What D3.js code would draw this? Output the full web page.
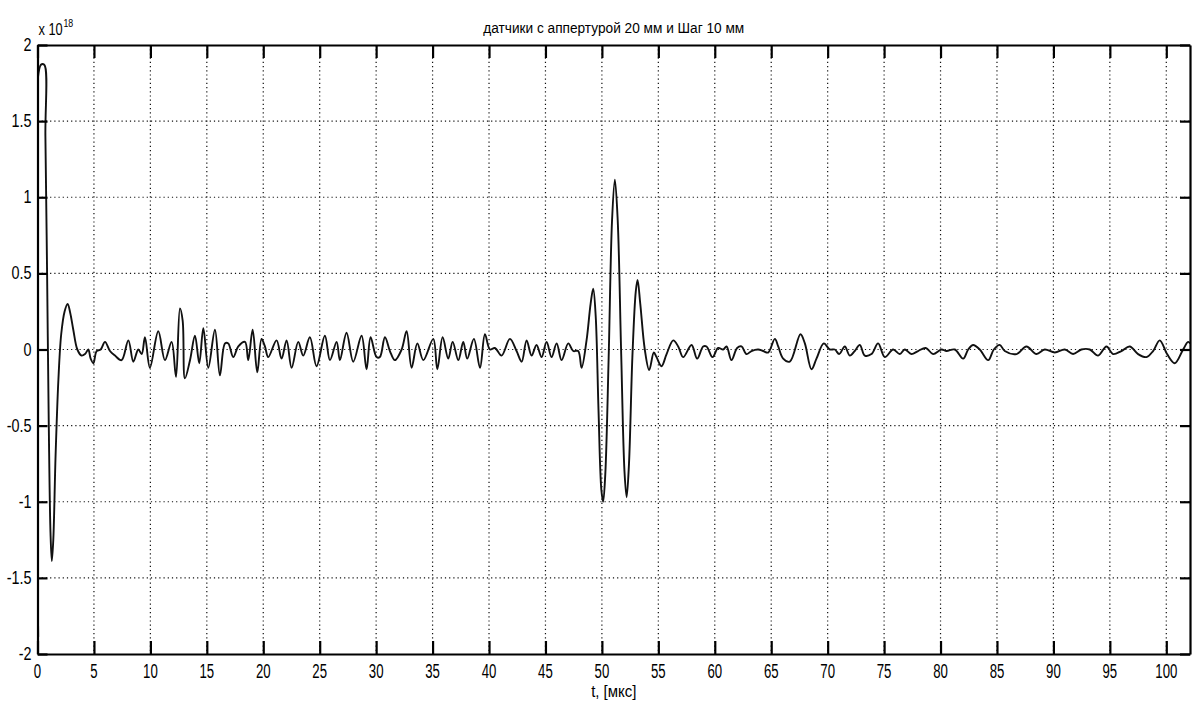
<!DOCTYPE html>
<html>
<head>
<meta charset="utf-8">
<script src="https://cdn.jsdelivr.net/npm/d3@7"></script>
<style>
  body { margin: 0; background: #fff; }
  text { font-family: "Liberation Sans", Arial, sans-serif; fill: #000; }
</style>
</head>
<body>
<div id="chart"></div>
<script>
// signal samples: time in мкс, amplitude in units of 1e18
var tSamples = [
  0, 0.06, 0.3, 0.6, 0.7, 0.85, 1.0, 1.15, 1.27, 1.4, 1.6, 1.85, 2.1, 2.4, 2.67, 2.9, 3.17, 3.53, 3.91, 4.21,
  4.5, 4.71, 4.95, 5.24, 5.6, 5.98, 6.42, 6.86, 7.45, 8.05, 8.49, 8.93, 9.23, 9.52, 9.96, 10.7, 11.29, 11.88, 12.27, 12.62,
  12.86, 13.06, 13.51, 13.95, 14.33, 14.69, 15.13, 15.72, 16.16, 16.61, 16.9, 17.34, 17.79, 18.38, 18.67, 19.06, 19.47, 19.85, 20.15, 20.44,
  21.18, 21.62, 22.07, 22.51, 23.1, 23.54, 24.13, 24.72, 25.46, 25.91, 26.5, 26.79, 27.38, 27.97, 28.71, 29.15, 29.51, 30.04, 30.33, 30.78,
  31.22, 31.66, 32.26, 32.7, 33.14, 33.65, 34.18, 35.06, 35.42, 35.89, 36.39, 36.78, 37.28, 37.72, 38.07, 38.66, 39.2, 39.64, 40.08, 40.52,
  41.11, 41.85, 42.44, 42.89, 43.33, 43.77, 44.21, 44.66, 45.1, 45.54, 45.99, 46.43, 47.02, 47.46, 47.9, 48.2, 48.64, 49.0, 49.23, 49.45,
  49.7, 49.95, 50.11, 50.3, 50.6, 50.9, 51.15, 51.4, 51.7, 52.0, 52.19, 52.4, 52.7, 53.0, 53.16, 53.4, 53.8, 54.19, 54.6, 54.84,
  55.28, 55.73, 56.32, 56.76, 57.2, 57.94, 58.44, 58.97, 59.27, 59.8, 60.3, 60.74, 61.04, 61.48, 61.98, 62.37, 62.81, 63.25, 63.84, 64.29,
  64.73, 65.32, 65.62, 66.06, 66.65, 67.59, 67.98, 68.57, 69.01, 69.66, 70.19, 70.63, 71.02, 71.52, 71.96, 72.4, 72.85, 73.29, 73.88, 74.47,
  75.06, 75.8, 76.39, 76.83, 77.42, 78.01, 78.69, 79.34, 80.08, 80.53, 81.26, 82.0, 82.45, 82.89, 83.48, 84.22, 84.72, 85.25, 85.69, 86.73,
  87.61, 88.5, 89.23, 90.12, 91.01, 91.74, 92.48, 93.22, 93.96, 94.7, 95.29, 96.02, 96.76, 97.5, 98.24, 98.83, 99.42, 100.07, 100.75, 101.49,
  101.93, 102.1
];
var ampSamples = [
  0.37, -1.89, 1.87, 1.87, 1.4, 0.5, -0.5, -1.2, -1.39, -1.25, -0.7, -0.2, 0.1, 0.25, 0.3, 0.24, 0.13, 0, -0.04, -0.03,
  0, -0.06, -0.09, -0.01, 0, 0.05, -0.01, -0.04, -0.07, 0.06, -0.08, 0, -0.03, 0.08, -0.12, 0.12, -0.07, 0.05, -0.18, 0.27,
  0.19, -0.19, -0.07, 0.09, -0.09, 0.14, -0.12, 0.13, -0.17, 0.04, 0.04, -0.05, 0.02, 0.05, -0.07, 0.13, -0.15, 0.07, 0.02, -0.05,
  0.06, -0.06, 0.06, -0.12, 0.05, -0.04, 0.08, -0.11, 0.09, -0.07, 0.05, -0.07, 0.11, -0.08, 0.09, -0.13, 0.08, -0.05, -0.05, 0.08,
  -0.01, -0.07, 0, 0.12, -0.12, 0.04, -0.07, 0.07, -0.13, 0.08, -0.06, 0.05, -0.07, 0.05, -0.06, 0.07, -0.12, 0.1, 0, 0.01,
  -0.04, 0.07, -0.01, -0.08, 0.06, -0.04, 0.03, -0.05, 0.05, -0.05, 0.04, -0.07, 0.04, -0.01, -0.01, -0.12, 0.06, 0.3, 0.4, 0.22,
  -0.4, -0.92, -1.0, -0.82, -0.05, 0.85, 1.115, 0.85, 0, -0.8, -0.97, -0.75, -0.05, 0.38, 0.457, 0.3, 0, -0.135, -0.02, -0.05,
  -0.11, -0.03, 0.06, 0.02, -0.05, 0.03, -0.06, 0.02, 0.02, -0.05, 0.01, 0, 0.02, -0.07, 0.01, 0.02, -0.03, -0.01, 0, -0.01,
  -0.02, 0.07, 0.02, -0.06, -0.08, 0.1, 0.04, -0.13, -0.06, 0.04, 0, 0, -0.03, 0.02, -0.04, -0.01, 0.03, -0.04, -0.03, 0.04,
  -0.05, 0, -0.03, 0, -0.03, -0.01, 0.01, -0.03, 0, -0.01, 0, -0.06, 0, 0.03, 0, -0.07, 0, 0.03, -0.01, -0.03,
  0.02, -0.03, 0, -0.02, 0, -0.03, 0, 0, -0.04, 0.02, -0.03, -0.01, 0.02, -0.03, -0.05, -0.01, 0.06, -0.03, -0.09, 0,
  0.05, 0.04
];
var xTicks = d3.range(0, 101, 5);
var yTicks = [-2, -1.5, -1, -0.5, 0, 0.5, 1, 1.5, 2];
var xMax = 102.1;

var svgWidth = 1192, svgHeight = 703;
var margin = { top: 45, right: 2, bottom: 49, left: 37.5 };
var width = svgWidth - margin.left - margin.right;
var height = svgHeight - margin.top - margin.bottom;

var svg = d3.select("#chart").append("svg")
  .attr("width", svgWidth)
  .attr("height", svgHeight);

var chartGroup = svg.append("g")
  .attr("transform", `translate(${margin.left}, ${margin.top})`);

var xScale = d3.scaleLinear().domain([0, xMax]).range([0, width]);
var yScale = d3.scaleLinear().domain([-2, 2]).range([height, 0]);

// dotted grid
chartGroup.append("g").selectAll("line")
  .data(xTicks.filter(d => d > 0))
  .enter().append("line")
  .attr("x1", d => xScale(d)).attr("x2", d => xScale(d))
  .attr("y1", 0).attr("y2", height)
  .attr("stroke", "#111").attr("stroke-width", 1.2)
  .attr("stroke-dasharray", "1.2,3");

chartGroup.append("g").selectAll("line")
  .data(yTicks.filter(d => d > -2 && d < 2))
  .enter().append("line")
  .attr("x1", 0).attr("x2", width)
  .attr("y1", d => yScale(d)).attr("y2", d => yScale(d))
  .attr("stroke", "#111").attr("stroke-width", 1.2)
  .attr("stroke-dasharray", "1.2,3");

// signal
var points = tSamples.map((t, i) => [t, ampSamples[i]]);
var line = d3.line()
  .x(d => xScale(d[0]))
  .y(d => yScale(d[1]))
  .curve(d3.curveCatmullRom.alpha(0.5));

svg.append("clipPath").attr("id", "clip")
  .append("rect").attr("width", width).attr("height", height);

chartGroup.append("path")
  .datum(points)
  .attr("clip-path", "url(#clip)")
  .attr("fill", "none")
  .attr("stroke", "#111")
  .attr("stroke-width", 1.9)
  .attr("stroke-linejoin", "round")
  .attr("d", line);

// axes with inward ticks, box on
var tickLen = 13;
var bottomAxis = d3.axisBottom(xScale).tickValues(xTicks).tickSizeInner(-tickLen).tickSizeOuter(0).tickFormat("");
var topAxis = d3.axisTop(xScale).tickValues(xTicks).tickSizeInner(-tickLen).tickSizeOuter(0).tickFormat("");
var leftAxis = d3.axisLeft(yScale).tickValues(yTicks).tickSizeInner(-10).tickSizeOuter(0).tickFormat("");
var rightAxis = d3.axisRight(yScale).tickValues(yTicks).tickSizeInner(-10).tickSizeOuter(0).tickFormat("");

var axes = [
  chartGroup.append("g").attr("transform", `translate(0, ${height})`).call(bottomAxis),
  chartGroup.append("g").call(topAxis),
  chartGroup.append("g").call(leftAxis),
  chartGroup.append("g").attr("transform", `translate(${width}, 0)`).call(rightAxis)
];
axes.forEach(function (g) {
  g.selectAll("path, line").attr("stroke", "#000").attr("stroke-width", 2.2);
});

// tick labels
chartGroup.append("g").selectAll("text")
  .data(xTicks)
  .enter().append("text")
  .attr("transform", d => `translate(${xScale(d)}, ${height + 24}) scale(0.66, 1)`)
  .attr("text-anchor", "middle")
  .attr("font-size", "20px")
  .text(d => d);

chartGroup.append("g").selectAll("text")
  .data(yTicks)
  .enter().append("text")
  .attr("transform", d => `translate(-6, ${yScale(d) + 6}) scale(0.8, 1)`)
  .attr("text-anchor", "end")
  .attr("font-size", "18px")
  .text(d => d);

// exponent
var expo = svg.append("text")
  .attr("transform", `translate(${margin.left + 1}, 35) scale(0.8, 1)`)
  .attr("font-size", "16px");
expo.append("tspan").text("x 10");
expo.append("tspan").attr("dy", -8).attr("dx", 1).attr("font-size", "11px").text("18");

// title
svg.append("text")
  .attr("x", margin.left + width / 2)
  .attr("y", 33)
  .attr("text-anchor", "middle")
  .attr("font-size", "14px")
  .attr("textLength", 261)
  .attr("lengthAdjust", "spacingAndGlyphs")
  .text("датчики с аппертурой 20 мм и Шаг 10 мм");

// x axis label
svg.append("text")
  .attr("transform", `translate(${margin.left + width / 2}, 697) scale(0.88, 1)`)
  .attr("text-anchor", "middle")
  .attr("font-size", "17px")
  .text("t, [мкс]");
</script>
</body>
</html>
